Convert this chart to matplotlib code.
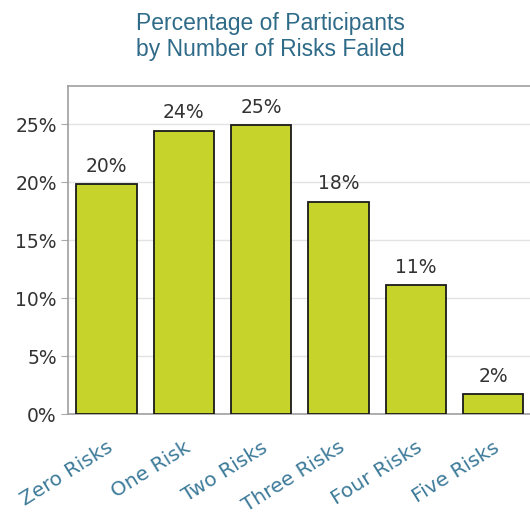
import matplotlib
matplotlib.use("Agg")
import matplotlib.pyplot as plt
from matplotlib.ticker import FuncFormatter

categories = ["Zero Risks", "One Risk", "Two Risks", "Three Risks", "Four Risks", "Five Risks"]
percentages = [19.8, 24.4, 24.9, 18.3, 11.1, 1.7]
yticks = [0, 5, 10, 15, 20, 25]

fig = plt.figure(figsize=(5.3, 5.17), dpi=100)
ax = fig.add_axes([0.128, 0.199, 0.875, 0.635])

x = range(len(categories))
ax.bar(x, percentages, width=0.78, color="#c5d32b", edgecolor="#1a1a1a",
       linewidth=1.3, zorder=3)

for xi, v in zip(x, percentages):
    ax.text(xi, v + 0.75, f"{v:.0f}%", ha="center", va="bottom",
            fontsize=13.5, color="#333333", family="DejaVu Sans")

ax.set_xlim(-0.5, 5.5)
ax.set_ylim(0, 28.3)
ax.set_yticks(yticks)
ax.yaxis.set_major_formatter(FuncFormatter(lambda v, p: f"{v:.0f}%"))
ax.grid(axis="y", color="#e3e3e3", linewidth=1.0, zorder=0)
ax.set_xticks(list(x))
ax.set_xticklabels(categories, rotation=32, ha="right", rotation_mode="anchor",
                   fontsize=14.5, color="#3e7b9a", family="DejaVu Sans")
ax.tick_params(axis="x", length=0, pad=17)
ax.tick_params(axis="y", length=5, color="#aaaaaa", labelsize=13.5,
               labelcolor="#333333", pad=3)
for lbl in ax.get_yticklabels():
    lbl.set_family("DejaVu Sans")

for side in ["left", "top", "right", "bottom"]:
    ax.spines[side].set_color("#a0a0a0")
    ax.spines[side].set_linewidth(1.2)

fig.text(0.51, 0.977, "Percentage of Participants\nby Number of Risks Failed",
         ha="center", va="top", fontsize=16.5, color="#2f6b88",
         family="Liberation Sans", linespacing=1.2)

fig.savefig("out.png", dpi=100)
